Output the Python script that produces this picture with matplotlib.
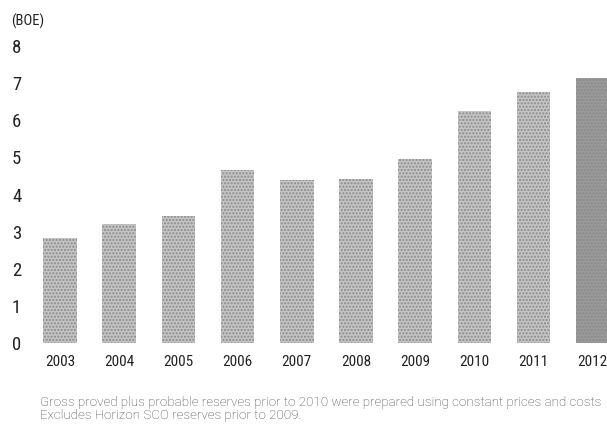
import matplotlib
matplotlib.use('Agg')
import matplotlib.pyplot as plt
from matplotlib import font_manager

# Reserves (BOE)
years = ['2003', '2004', '2005', '2006', '2007', '2008', '2009', '2010', '2011', '2012']
reserves = [2.83, 3.21, 3.43, 4.66, 4.39, 4.42, 4.96, 6.25, 6.77, 7.14]
bar_colors = ['#c4c4c4'] * 9 + ['#9a9a9a']
y_ticks = [0, 1, 2, 3, 4, 5, 6, 7, 8]
unit_label = '(BOE)'
footnote = ('Gross proved plus probable reserves prior to 2010 were prepared using constant prices and costs\n'
            'Excludes Horizon SCO reserves prior to 2009.')

note_font = ['Roboto', 'DejaVu Sans']

# narrowest installed font for the figures
names = {f.name for f in font_manager.fontManager.ttflist}
num_props = dict(family='DejaVu Sans', stretch='condensed')
for cand in ['Liberation Sans Narrow', 'Roboto Condensed', 'Open Sans Condensed',
             'DejaVu Sans Condensed']:
    if cand in names:
        num_props = dict(family=cand)
        break


def main():
    fig = plt.figure(figsize=(6.07, 4.30), dpi=100)
    ax = fig.add_axes([0.0, 1 - 343 / 430, 1.0, (343 - 46) / 430])

    x = list(range(len(years)))
    ax.bar(x, reserves, width=0.57, color=bar_colors, edgecolor='#8a8a8a',
           linewidth=0, hatch='.....')

    ax.set_xlim(-60 / 59.2, (607 - 60) / 59.2)
    ax.set_ylim(0, 8)

    ax.set_xticks(x)
    ax.set_xticklabels(years, fontsize=11, color='#222222', **num_props)
    ax.set_yticks(y_ticks)
    ax.set_yticklabels([str(v) for v in y_ticks], fontsize=13.5, color='#222222',
                       **num_props)
    for lab in ax.get_yticklabels():
        lab.set_horizontalalignment('center')
    ax.tick_params(axis='y', length=0, pad=-12)
    ax.tick_params(axis='x', length=0, pad=8.5)

    for side in ['top', 'right', 'bottom', 'left']:
        ax.spines[side].set_visible(False)

    fig.text(11 / 607, 1 - 21 / 430, unit_label, fontsize=10.5, color='#222222',
             va='center', ha='left', **num_props)
    fig.text(40 / 607, 1 - 409 / 430, footnote, fontsize=9.65, family=note_font,
             fontweight='light', color='#444444', va='center', ha='left',
             linespacing=0.95)

    fig.savefig('out.png', dpi=100)


if __name__ == '__main__':
    main()
